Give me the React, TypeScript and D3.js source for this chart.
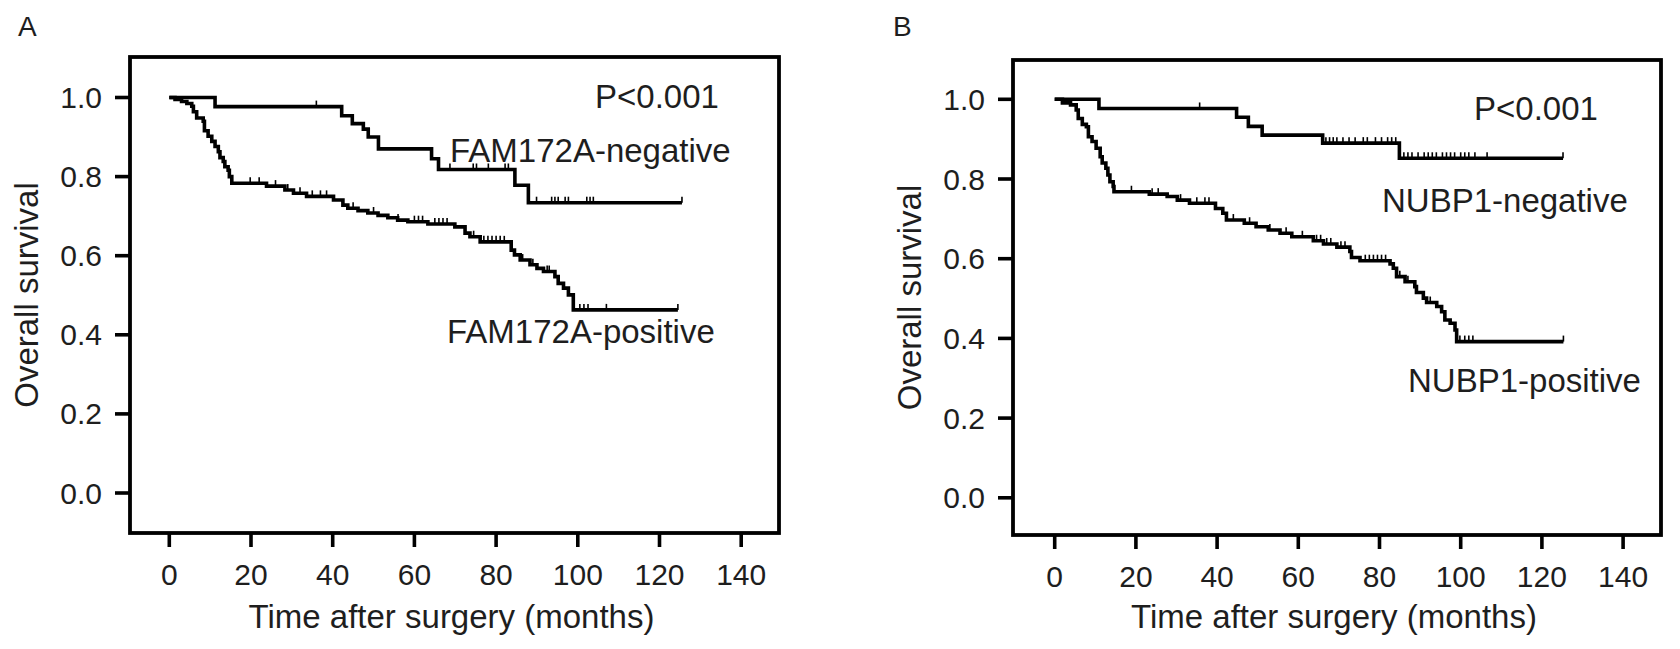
import React from "react";
import * as d3 from "d3";

// ---------- data ----------
const xTicks = [0, 20, 40, 60, 80, 100, 120, 140];
const yTicks = [0, 0.2, 0.4, 0.6, 0.8, 1.0];
const xTitle = "Time after surgery (months)";
const yTitle = "Overall survival";
const pText = "P<0.001";

// Panel A – FAM172A-negative
const negATimes = [11.2, 42.2, 44.8, 47.5, 48.7, 51.2, 64.2, 65.9, 84.6, 87.9];
const negASurv = [0.977, 0.954, 0.934, 0.92, 0.9, 0.87, 0.845, 0.818, 0.778, 0.734];
const negAEnd = 125.5;
const negACensor = [36, 68.7, 74.4, 75.2, 78.1, 82.2, 83.0, 89.9, 93.6, 94.4, 95.2, 96.9, 97.7, 102.2, 103.0, 103.8, 125.5];

// Panel A – FAM172A-positive
const posATimes = [1.4, 3.0, 4.3, 5.5, 5.9, 6.7, 8.3, 8.6, 9.5, 10.4, 11.2, 12.0, 12.4, 13.2, 13.6, 14.4, 14.7, 15.3,
  23.8, 28.3, 30.4, 33.6, 40.2, 42.5, 43.7, 46.2, 48.6, 51.1, 53.5, 55.9, 58.4, 63.3, 69.9, 72.4, 73.6, 76.1,
  83.7, 84.5, 85.9, 88.3, 90.0, 91.6, 94.4, 95.2, 96.5, 97.7, 98.9];
const posASurv = [0.995, 0.99, 0.985, 0.978, 0.964, 0.948, 0.94, 0.916, 0.902, 0.889, 0.876, 0.863, 0.848, 0.838, 0.825, 0.816, 0.8, 0.783,
  0.776, 0.766, 0.758, 0.75, 0.741, 0.728, 0.72, 0.714, 0.708, 0.702, 0.696, 0.69, 0.686, 0.68, 0.673, 0.657, 0.648, 0.635,
  0.614, 0.602, 0.589, 0.577, 0.568, 0.56, 0.547, 0.53, 0.518, 0.501, 0.463];
const posAEnd = 124.5;
const posACensor = [19.8, 22, 26, 29, 32, 35, 37, 38.5, 45, 50, 56, 60, 61, 62, 65, 66, 67, 68, 74.5, 77, 78, 79, 80, 81, 82,
  86.5, 89, 92.5, 93, 100.5, 101.5, 102.5, 107, 124.5];

// Panel B – NUBP1-negative
const negBTimes = [10.9, 44.8, 47.7, 51.1, 66.0, 84.9];
const negBSurv = [0.977, 0.955, 0.932, 0.91, 0.89, 0.852];
const negBEnd = 125.2;
const negBCensor = [35.7, 66.8, 67.7, 68.6, 69.5, 71, 72.5, 74, 76, 77, 79, 80.5, 82, 83, 84, 86, 87, 88, 89.5, 91, 92, 93,
  94, 95.5, 96.5, 97.5, 98.5, 100, 101, 102, 103.5, 106.5, 125.2];

// Panel B – NUBP1-positive
const posBTimes = [1.9, 3.9, 5.3, 5.8, 6.8, 7.8, 8.3, 9.2, 10.2, 11.2, 11.7, 12.6, 13.1, 13.6, 14.4, 14.6,
  23.3, 27.7, 30.2, 33.2, 39.6, 41.4, 42.3, 46.7, 49.6, 52.6, 55.5, 58.4, 63.7, 66.2, 69.5, 72.7, 73.1, 75.2,
  82.6, 83.4, 84.2, 86.3, 88.7, 89.1, 90.8, 91.6, 94.1, 95.3, 96.1, 97.4, 98.6, 99.0];
const posBSurv = [0.991, 0.986, 0.973, 0.952, 0.937, 0.931, 0.906, 0.894, 0.877, 0.856, 0.84, 0.827, 0.81, 0.793, 0.781, 0.768,
  0.762, 0.756, 0.747, 0.739, 0.726, 0.714, 0.697, 0.689, 0.68, 0.672, 0.664, 0.655, 0.645, 0.637, 0.629, 0.618, 0.603, 0.595,
  0.587, 0.576, 0.555, 0.542, 0.53, 0.515, 0.501, 0.49, 0.48, 0.467, 0.446, 0.438, 0.421, 0.392];
const posBEnd = 125.3;
const posBCensor = [18.9, 24, 25.5, 31, 35, 37, 38, 44, 48, 53, 57, 61, 64.5, 65.5, 67, 68, 70.5, 71.5, 76.5, 77.5, 78.5,
  79.5, 80.5, 81.5, 85, 87, 92.5, 99.8, 101, 102, 103, 125.3];

// ---------- layout ----------
const FONT = "'Liberation Sans', Arial, Helvetica, sans-serif";
const TXT = "#1e1e1e";

type Curve = { times: number[]; surv: number[]; end: number; censor: number[] };
type Label = { text: string; x: number; y: number };

const panels = [
  {
    letter: "A", letterX: 18,
    left: 130, right: 779, top: 57, bottom: 533,
    x0: 169.3, x140: 741.2, y0: 493, y1: 97.5,
    yTitleX: 38,
    curves: [
      { times: negATimes, surv: negASurv, end: negAEnd, censor: negACensor },
      { times: posATimes, surv: posASurv, end: posAEnd, censor: posACensor },
    ] as Curve[],
    labels: [
      { text: pText, x: 595, y: 108 },
      { text: "FAM172A-negative", x: 450, y: 162 },
      { text: "FAM172A-positive", x: 447, y: 343 },
    ] as Label[],
  },
  {
    letter: "B", letterX: 893,
    left: 1013, right: 1661, top: 60, bottom: 535,
    x0: 1054.7, x140: 1623.1, y0: 497.8, y1: 99.3,
    yTitleX: 921,
    curves: [
      { times: negBTimes, surv: negBSurv, end: negBEnd, censor: negBCensor },
      { times: posBTimes, surv: posBSurv, end: posBEnd, censor: posBCensor },
    ] as Curve[],
    labels: [
      { text: pText, x: 1474, y: 120 },
      { text: "NUBP1-negative", x: 1382, y: 212 },
      { text: "NUBP1-positive", x: 1408, y: 392 },
    ] as Label[],
  },
];

function survAt(c: Curve, t: number) {
  let s = 1;
  for (let i = 0; i < c.times.length; i++) if (c.times[i] <= t) s = c.surv[i];
  return s;
}

function Panel({ p }: { p: (typeof panels)[number] }) {
  const x = d3.scaleLinear().domain([0, 140]).range([p.x0, p.x140]);
  const y = d3.scaleLinear().domain([0, 1]).range([p.y0, p.y1]);
  const line = d3
    .line<[number, number]>()
    .x((d) => x(d[0]))
    .y((d) => y(d[1]))
    .curve(d3.curveStepAfter);
  const cx = (p.left + p.right) / 2;
  const cy = (p.top + p.bottom) / 2;
  return (
    <g>
      <text x={p.letterX} y={36} fontSize={28} fill={TXT} fontFamily={FONT}>{p.letter}</text>
      <rect x={p.left} y={p.top} width={p.right - p.left} height={p.bottom - p.top}
        fill="none" stroke="#000" strokeWidth={3.8} />
      {xTicks.map((t) => (
        <g key={"x" + t}>
          <line x1={x(t)} x2={x(t)} y1={p.bottom} y2={p.bottom + 14} stroke="#000" strokeWidth={3.6} />
          <text x={x(t)} y={p.bottom + 52} textAnchor="middle" fontSize={30} fill={TXT} fontFamily={FONT}>{t}</text>
        </g>
      ))}
      {yTicks.map((v) => (
        <g key={"y" + v}>
          <line x1={p.left - 15} x2={p.left} y1={y(v)} y2={y(v)} stroke="#000" strokeWidth={3.6} />
          <text x={p.left - 28} y={y(v) + 10.5} textAnchor="end" fontSize={30} fill={TXT} fontFamily={FONT}>{v.toFixed(1)}</text>
        </g>
      ))}
      <text x={cx - 3} y={628} textAnchor="middle" fontSize={33} fill={TXT} fontFamily={FONT}>{xTitle}</text>
      <text transform={`translate(${p.yTitleX},${cy}) rotate(-90)`} textAnchor="middle" fontSize={33} fill={TXT} fontFamily={FONT}>{yTitle}</text>
      {p.curves.map((c, i) => {
        const pts: [number, number][] = [[0, 1]];
        c.times.forEach((t, j) => pts.push([t, c.surv[j]]));
        pts.push([c.end, c.surv[c.surv.length - 1]]);
        return (
          <g key={"c" + i}>
            <path d={line(pts) || ""} fill="none" stroke="#000" strokeWidth={3.6} strokeLinejoin="miter" />
            {c.censor.map((t, k) => (
              <line key={k} x1={x(t)} x2={x(t)} y1={y(survAt(c, t)) - 6} y2={y(survAt(c, t))}
                stroke="#000" strokeWidth={1.6} />
            ))}
          </g>
        );
      })}
      {p.labels.map((l, i) => (
        <text key={"l" + i} x={l.x} y={l.y} fontSize={33} fill={TXT} fontFamily={FONT}>{l.text}</text>
      ))}
    </g>
  );
}

export default function App() {
  return (
    <svg width={1680} height={649} style={{ position: "absolute", left: 0, top: 0, background: "#fff" }}>
      <rect x={0} y={0} width={1680} height={649} fill="#fff" />
      {panels.map((p) => (
        <Panel key={p.letter} p={p} />
      ))}
    </svg>
  );
}
